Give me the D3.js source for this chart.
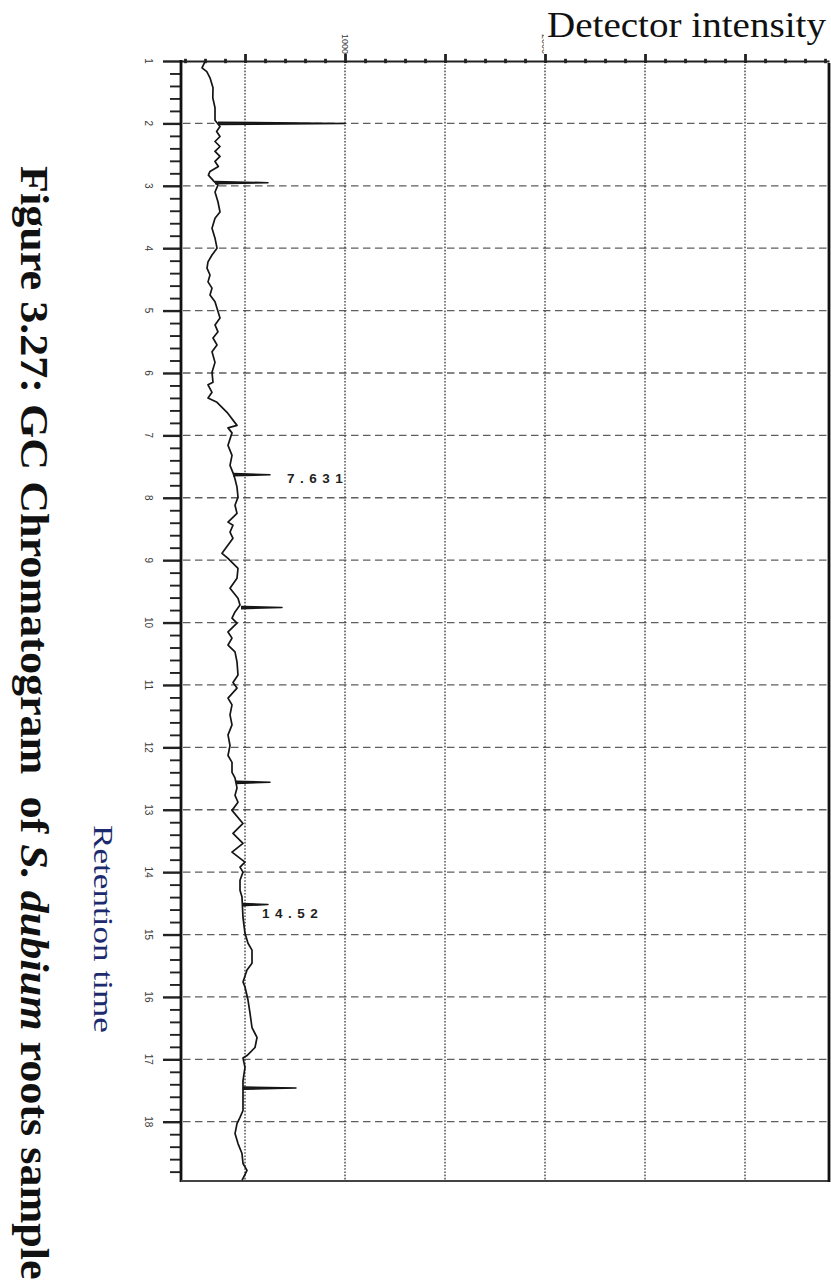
<!DOCTYPE html>
<html>
<head>
<meta charset="utf-8">
<script src="https://cdn.jsdelivr.net/npm/d3@7"></script>
<style>
  html, body { margin: 0; padding: 0; background: #fff; }
  svg { display: block; }
</style>
</head>
<body>
<svg id="chart" width="831" height="1283"></svg>
<script>
// Baseline trace: retention time (min) and detector response
const traceRt = [1.01, 1.11, 1.17, 1.27, 1.43, 1.59, 1.75, 1.95, 2.05, 2.13, 2.21, 2.29, 2.37, 2.45, 2.53, 2.61, 2.69, 2.77, 2.83, 2.93,
  2.99, 3.10, 3.26, 3.42, 3.52, 3.68, 3.84, 4.00, 4.11, 4.22, 4.32, 4.43, 4.54, 4.64, 4.75, 4.86, 5.12, 5.23, 5.34, 5.44,
  5.55, 5.66, 5.83, 5.99, 6.15, 6.19, 6.31, 6.40, 6.47, 6.63, 6.84, 6.88, 6.96, 7.16, 7.32, 7.48, 7.60, 7.70, 7.83, 7.99,
  8.12, 8.25, 8.39, 8.44, 8.55, 8.65, 8.89, 8.97, 9.13, 9.29, 9.45, 9.61, 9.72, 9.83, 9.93, 10.01, 10.15, 10.25, 10.36, 10.47,
  10.63, 10.84, 10.96, 11.05, 11.21, 11.32, 11.48, 11.64, 11.80, 11.97, 12.13, 12.24, 12.40, 12.49, 12.65, 12.77, 12.88, 13.01, 13.22, 13.38,
  13.54, 13.68, 13.84, 13.92, 14.00, 14.13, 14.29, 14.40, 14.73, 14.98, 15.14, 15.25, 15.46, 15.57, 15.76, 15.84, 16.05, 16.26, 16.49, 16.65,
  16.81, 16.94, 16.98, 17.13, 17.34, 17.61, 17.82, 17.93, 18.03, 18.19, 18.35, 18.51, 18.67, 18.78, 18.94];
const traceSignal = [300, 285, 309, 325, 340, 339, 350, 350, 375, 358, 375, 350, 375, 350, 375, 350, 367, 325, 317, 345,
  365, 350, 365, 375, 350, 335, 350, 360, 335, 315, 310, 325, 315, 335, 325, 350, 375, 350, 365, 340,
  360, 335, 350, 335, 340, 315, 335, 315, 360, 410, 460, 415, 435, 415, 435, 425, 440, 450, 460, 465,
  450, 460, 415, 440, 425, 440, 385, 415, 465, 460, 425, 465, 475, 450, 435, 460, 415, 435, 415, 450,
  460, 465, 440, 460, 415, 435, 425, 435, 415, 425, 415, 435, 435, 450, 460, 450, 465, 435, 490, 440,
  490, 435, 500, 475, 490, 475, 475, 485, 490, 500, 515, 535, 535, 510, 490, 500, 515, 525, 535, 560,
  550, 510, 490, 500, 490, 490, 490, 475, 460, 450, 465, 485, 490, 510, 485];

// Detected peaks: retention time, apex response and local baseline
const peakRt = [2.00, 2.95, 7.631, 9.76, 12.56, 14.52, 17.46];
const peakApex = [1000, 615, 625, 685, 625, 615, 755];
const peakBase = [365, 350, 440, 480, 455, 485, 490];
const peakLabels = ["", "", "7.631", "", "", "14.52", ""];

// Axis ticks
const rtTicks = [1, 2, 3, 4, 5, 6, 7, 8, 9, 10, 11, 12, 13, 14, 15, 16, 17, 18];
const rtTickLabels = ["1", "2", "3", "4", "5", "6", "7", "8", "9", "10", "11", "12", "13", "14", "15", "16", "17", "18"];
const signalGrid = [500, 1000, 1500, 2000, 2500, 3000];
const signalTicks = [1000, 2000, 3000];
const signalTickLabels = ["1000", "2000", "3000"];

// ---- layout ----
const plot = { left: 181, right: 829, top: 61, bottom: 1181 };
const svg = d3.select("#chart");

// retention time runs downwards, detector response runs to the right
const y = d3.scaleLinear().domain([1, 18.95]).range([plot.top, plot.bottom]);
const x = d3.scaleLinear().domain([180, 3420]).range([plot.left, plot.right]);

const serif = "'Liberation Serif', 'Times New Roman', serif";
const sans = "'Liberation Sans', Arial, sans-serif";

// stretch a text node along its baseline to a given length
function fitLength(sel, len, tx, ty, rot) {
  const n = sel.node().getComputedTextLength();
  const k = len / n;
  sel.attr("transform", `translate(${tx},${ty}) rotate(${rot}) scale(${k},1)`);
}

// horizontal dashed grid (one line per minute)
svg.append("g")
  .selectAll("line")
  .data(rtTicks.filter(d => d > 1))
  .join("line")
  .attr("x1", plot.left + 2).attr("x2", plot.right)
  .attr("y1", d => y(d)).attr("y2", d => y(d))
  .attr("stroke", "#5e5e5e").attr("stroke-width", 1.3)
  .attr("stroke-dasharray", "7.5,4.5");

// vertical dotted grid
svg.append("g")
  .selectAll("line")
  .data(signalGrid)
  .join("line")
  .attr("x1", d => x(d)).attr("x2", d => x(d))
  .attr("y1", plot.top).attr("y2", plot.bottom)
  .attr("stroke", "#444").attr("stroke-width", 1.4)
  .attr("stroke-dasharray", "1.6,1.6");

// top (response) axis with minor ticks every 100 units
const topAxis = d3.axisTop(x)
  .tickValues(d3.range(200, 3401, 100))
  .tickSize(0)
  .tickFormat("");
const gTop = svg.append("g").attr("transform", `translate(0,${plot.top})`).call(topAxis);
gTop.select(".domain").attr("stroke", "#222").attr("stroke-width", 2.2);
gTop.selectAll(".tick").append("rect")
  .attr("x", -1.4).attr("width", 2.8)
  .attr("y", d => (d % 500 === 0 ? -7 : -2.2))
  .attr("height", d => (d % 500 === 0 ? 9 : 4.4))
  .attr("fill", "#222");
svg.append("g")
  .selectAll("text")
  .data(signalTicks)
  .join("text")
  .attr("transform", d => `translate(${x(d)},54) rotate(90)`)
  .attr("text-anchor", "end")
  .attr("dy", "0.35em")
  .attr("font-family", sans)
  .attr("font-size", 9)
  .attr("fill", "#3a3a3a")
  .text((d, i) => signalTickLabels[i]);

// left (retention time) axis
const leftAxis = d3.axisLeft(y)
  .tickValues(d3.range(1, 18.95, 0.2).map(v => Math.round(v * 10) / 10))
  .tickSize(0)
  .tickFormat("");
const gLeft = svg.append("g").attr("transform", `translate(${plot.left},0)`).call(leftAxis);
gLeft.select(".domain").remove();
gLeft.selectAll(".tick").append("line")
  .attr("x1", d => (Math.abs(d - Math.round(d)) < 1e-6 ? -18 : -11))
  .attr("x2", 0)
  .attr("stroke", "#222")
  .attr("stroke-width", d => (Math.abs(d - Math.round(d)) < 1e-6 ? 2.4 : 1.9));
svg.append("g")
  .selectAll("text")
  .data(rtTicks)
  .join("text")
  .attr("transform", d => `translate(148,${y(d)}) rotate(90)`)
  .attr("text-anchor", "middle")
  .attr("dy", "0.35em")
  .attr("font-family", sans)
  .attr("font-size", 10)
  .attr("fill", "#3a3a3a")
  .text((d, i) => rtTickLabels[i]);

// frame
svg.append("line").attr("x1", plot.left).attr("x2", plot.left)
  .attr("y1", plot.top - 1).attr("y2", plot.bottom + 1)
  .attr("stroke", "#111").attr("stroke-width", 2.8);
svg.append("line").attr("x1", plot.left).attr("x2", plot.right)
  .attr("y1", plot.bottom).attr("y2", plot.bottom)
  .attr("stroke", "#444").attr("stroke-width", 2);
svg.append("line").attr("x1", plot.right).attr("x2", plot.right)
  .attr("y1", plot.top + 2).attr("y2", plot.bottom + 1)
  .attr("stroke", "#111").attr("stroke-width", 2.8);

// chromatogram trace
const points = traceRt.map((t, i) => [t, traceSignal[i]]);
svg.append("path")
  .datum(points)
  .attr("d", d3.line().x(d => x(d[1])).y(d => y(d[0])))
  .attr("fill", "none")
  .attr("stroke", "#151515")
  .attr("stroke-width", 1.7)
  .attr("stroke-linejoin", "round");

// peak spikes
const peaks = peakRt.map((t, i) => ({ t, apex: peakApex[i], base: peakBase[i], label: peakLabels[i] }));
svg.append("g")
  .selectAll("path")
  .data(peaks)
  .join("path")
  .attr("d", d => d3.line()([
    [x(d.base), y(d.t - 0.018)],
    [x(d.apex), y(d.t)],
    [x(d.base), y(d.t + 0.018)]
  ]))
  .attr("fill", "#222")
  .attr("stroke", "#151515")
  .attr("stroke-width", 1.5)
  .attr("stroke-linejoin", "round");

// peak retention-time labels
const labelOffset = { "7.631": [17, 4], "14.52": [-6, 9] };
svg.append("g")
  .selectAll("text")
  .data(peaks.filter(d => d.label))
  .join("text")
  .attr("x", d => x(d.apex) + labelOffset[d.label][0])
  .attr("y", d => y(d.t) + labelOffset[d.label][1])
  .attr("dy", "0.35em")
  .attr("font-family", sans)
  .attr("font-weight", "bold")
  .attr("font-size", 13.5)
  .attr("letter-spacing", 5.5)
  .attr("fill", "#1e1e1e")
  .text(d => d.label);

// "Detector intensity" heading on a white box
svg.append("rect").attr("x", 544).attr("y", 0).attr("width", 287).attr("height", 54).attr("fill", "#fff");
const det = svg.append("text")
  .attr("font-family", serif)
  .attr("font-size", 35)
  .attr("fill", "#111")
  .text("Detector intensity");
fitLength(det, 279, 547, 37, 0);

// axis title for retention time
const ret = svg.append("text")
  .attr("font-family", serif)
  .attr("font-size", 28)
  .attr("fill", "#1c2a6e")
  .text("Retention time");
fitLength(ret, 208, 94, 825, 90);

// figure caption, set vertically
const cap = svg.append("text")
  .attr("font-family", serif)
  .attr("font-size", 40)
  .attr("font-weight", "bold")
  .attr("fill", "#111")
  .attr("xml:space", "preserve");
cap.append("tspan").text("Figure 3.27: GC Chromatogram  of ");
cap.append("tspan").attr("font-style", "italic").text("S. dubium");
cap.append("tspan").text(" roots sample");
fitLength(cap, 1114, 21, 166, 90);
</script>
</body>
</html>
